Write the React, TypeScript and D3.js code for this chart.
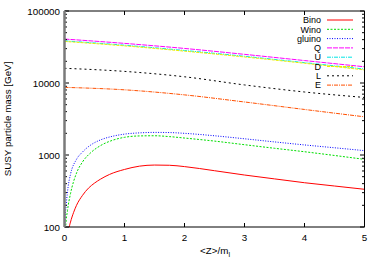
import React, { useEffect, useRef } from 'react';
import * as d3 from 'd3';

// gaugino masses
const zBino = [0.06, 0.08, 0.1, 0.15, 0.2, 0.3, 0.4, 0.5, 0.6, 0.75, 1, 1.25, 1.5, 1.75, 2, 2.5, 3, 3.5, 4, 4.5, 5];
const bino = [75, 100, 117, 158, 200, 275, 347, 407, 462, 537, 630, 700, 725, 720, 690, 605, 527, 466, 412, 371, 334];
const zWino = [0.01, 0.02, 0.05, 0.1, 0.2, 0.3, 0.45, 0.6, 0.8, 1, 1.25, 1.5, 1.75, 2, 2.5, 3, 3.5, 4, 4.5, 5];
const wino = [60, 100, 170, 290, 560, 800, 1100, 1350, 1600, 1760, 1840, 1850, 1800, 1720, 1560, 1390, 1240, 1110, 985, 870];
const zGluino = [0.001, 0.005, 0.03, 0.06, 0.1, 0.2, 0.3, 0.45, 0.6, 0.8, 1, 1.25, 1.5, 1.75, 2, 2.5, 3, 3.5, 4, 4.5, 5];
const gluino = [60, 100, 210, 360, 540, 870, 1100, 1400, 1620, 1820, 1950, 2030, 2060, 2050, 2000, 1850, 1680, 1520, 1380, 1260, 1150];

// sfermion masses
const zSfermion = [0, 1, 2, 3, 4, 5];
const q = [40800, 35500, 30200, 25000, 20500, 16800];
const u = [38500, 33500, 28300, 23500, 19200, 15600];
const d = [37800, 32800, 27700, 23000, 18800, 15200];
const l = [16000, 14500, 12200, 9400, 7500, 6300];
const e = [8700, 8040, 6840, 5450, 4290, 3390];

const xTicks = [0, 1, 2, 3, 4, 5];
const yTicks = [100, 1000, 10000, 100000];

const series = [
  { name: 'Bino', z: zBino, m: bino, color: '#ff0000', dash: null },
  { name: 'Wino', z: zWino, m: wino, color: '#00dd00', dash: '2,1.5' },
  { name: 'gluino', z: zGluino, m: gluino, color: '#0000ff', dash: '1,1.5' },
  { name: 'Q', z: zSfermion, m: q, color: '#ff00ff', dash: '5,1' },
  { name: 'U', z: zSfermion, m: u, color: '#00e5e5', dash: '4,1,1,1' },
  { name: 'D', z: zSfermion, m: d, color: '#eeee00', dash: '3,1' },
  { name: 'L', z: zSfermion, m: l, color: '#000000', dash: '2,3' },
  { name: 'E', z: zSfermion, m: e, color: '#ff5000', dash: '4,1,1,1' }
];

const width = 382;
const height = 267;
const margin = { top: 11, right: 17.5, bottom: 40, left: 64.5 };

const App = () => {
  const svgRef = useRef(null);

  useEffect(() => {
    const svg = d3.select(svgRef.current);
    svg.selectAll('*').remove();

    const x0 = margin.left;
    const x1 = width - margin.right;
    const y0 = height - margin.bottom;
    const y1 = margin.top;

    const x = d3.scaleLinear().domain([0, 5]).range([x0, x1]);
    const y = d3.scaleLog().domain([100, 100000]).range([y0, y1]);

    const font = 'Liberation Sans, Arial, Helvetica, sans-serif';

    svg.append('defs').append('clipPath').attr('id', 'plotclip')
      .append('rect')
      .attr('x', x0).attr('y', y1)
      .attr('width', x1 - x0).attr('height', y0 - y1);

    // curves
    const line = d3.line()
      .x(p => x(p[0]))
      .y(p => y(Math.max(p[1], 1)))
      .curve(d3.curveMonotoneX);

    const curves = svg.append('g').attr('clip-path', 'url(#plotclip)');
    series.forEach(s => {
      const pts = s.z.map((z, i) => [z, s.m[i]]);
      curves.append('path')
        .datum(pts)
        .attr('fill', 'none')
        .attr('stroke', s.color)
        .attr('stroke-width', 1)
        .attr('stroke-dasharray', s.dash)
        .attr('d', line);
    });

    // frame
    const frame = svg.append('g').attr('stroke', '#000').attr('stroke-width', 1).attr('fill', 'none');
    frame.append('line').attr('x1', x0).attr('x2', x1).attr('y1', y1).attr('y2', y1);
    frame.append('line').attr('x1', x0).attr('x2', x1).attr('y1', y0).attr('y2', y0);
    frame.append('line').attr('x1', x1).attr('x2', x1).attr('y1', y1).attr('y2', y0);
    svg.append('line').attr('x1', x0).attr('x2', x0).attr('y1', y1).attr('y2', y0)
      .attr('stroke', '#7a7a7a').attr('stroke-width', 2.5);

    // x ticks
    xTicks.forEach(t => {
      frame.append('line').attr('x1', x(t)).attr('x2', x(t)).attr('y1', y0).attr('y2', y0 - 4);
      frame.append('line').attr('x1', x(t)).attr('x2', x(t)).attr('y1', y1).attr('y2', y1 + 4);
      svg.append('text')
        .attr('x', x(t)).attr('y', y0 + 13.5)
        .attr('text-anchor', 'middle')
        .attr('font-family', font).attr('font-size', 9.8).attr('fill', '#000')
        .text(t);
    });

    // y ticks (log: major + minor)
    const minor = [];
    for (let dec = 100; dec < 100000; dec *= 10) {
      for (let k = 2; k <= 9; k++) minor.push(dec * k);
    }
    minor.forEach(v => {
      frame.append('line').attr('x1', x0).attr('x2', x0 + 2.5).attr('y1', y(v)).attr('y2', y(v));
      frame.append('line').attr('x1', x1).attr('x2', x1 - 2.5).attr('y1', y(v)).attr('y2', y(v));
    });
    yTicks.forEach(v => {
      frame.append('line').attr('x1', x0).attr('x2', x0 + 4.5).attr('y1', y(v)).attr('y2', y(v));
      frame.append('line').attr('x1', x1).attr('x2', x1 - 4.5).attr('y1', y(v)).attr('y2', y(v));
      svg.append('text')
        .attr('x', x0 - 4.5).attr('y', y(v) + 3.5)
        .attr('text-anchor', 'end')
        .attr('font-family', font).attr('font-size', 9.8).attr('fill', '#000')
        .text(v);
    });

    // axis titles
    const xl = svg.append('text')
      .attr('x', 215).attr('y', y0 + 27)
      .attr('text-anchor', 'middle')
      .attr('font-family', font).attr('font-size', 9.8).attr('fill', '#000');
    xl.append('tspan').text('<Z>/m');
    xl.append('tspan').attr('font-size', 7).attr('dy', 2.5).text('l');

    svg.append('text')
      .attr('transform', `translate(10.5,${(y0 + y1) / 2}) rotate(-90)`)
      .attr('text-anchor', 'middle')
      .attr('font-family', font).attr('font-size', 9.8).attr('fill', '#000')
      .text('SUSY particle mass [GeV]');

    // legend
    const legend = svg.append('g');
    series.forEach((s, i) => {
      const ly = 20 + i * 9.3;
      legend.append('text')
        .attr('x', 321).attr('y', ly + 3.2)
        .attr('text-anchor', 'end')
        .attr('font-family', font).attr('font-size', 9).attr('fill', '#000')
        .text(s.name);
      legend.append('line')
        .attr('x1', 327).attr('x2', 353).attr('y1', ly).attr('y2', ly)
        .attr('stroke', s.color).attr('stroke-width', 1)
        .attr('stroke-dasharray', s.dash);
    });
  }, []);

  return (
    <svg
      ref={svgRef}
      width={width}
      height={height}
      style={{ position: 'absolute', left: 0, top: 0, background: '#fff' }}
    />
  );
};

export default App;
